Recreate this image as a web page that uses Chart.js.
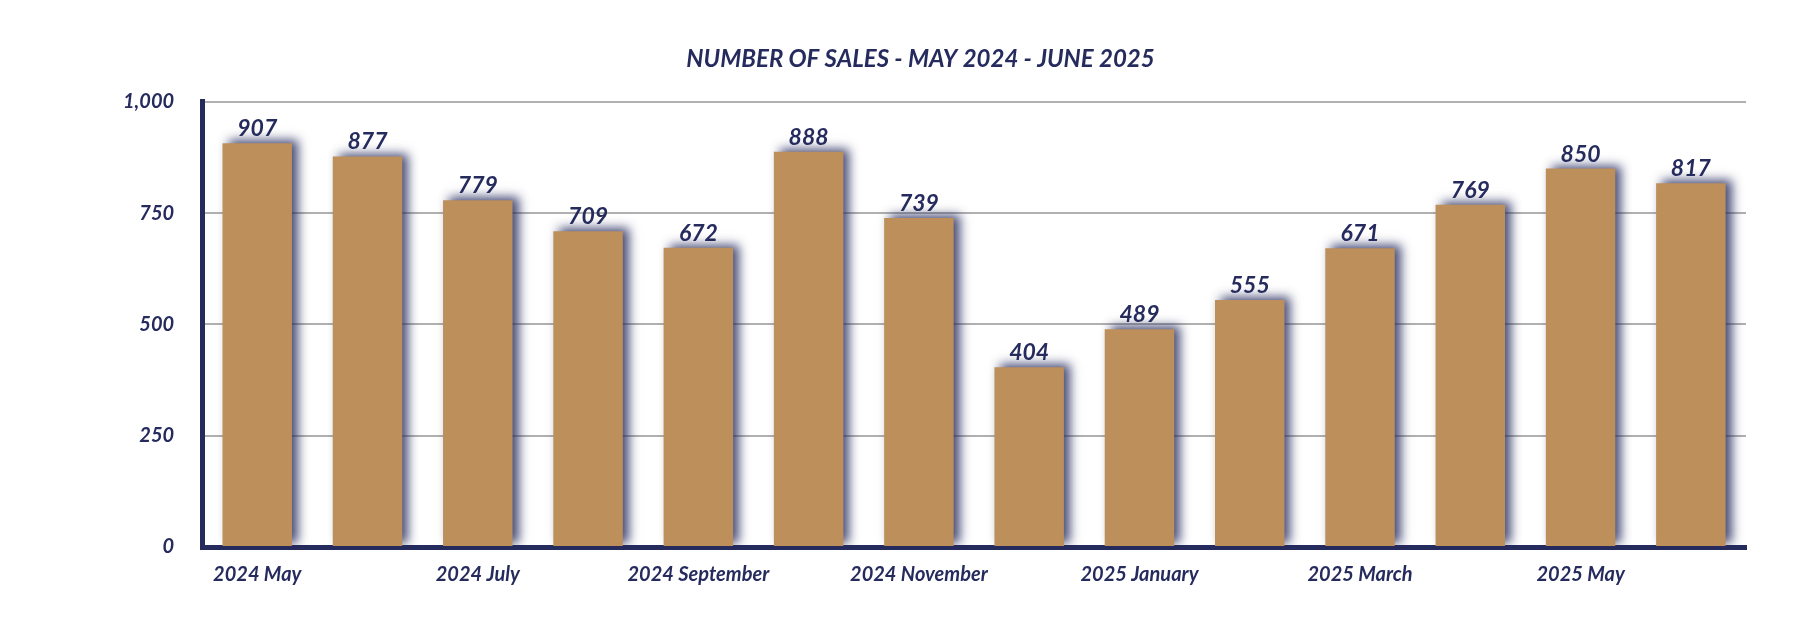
<!DOCTYPE html>
<html>
<head>
<meta charset="utf-8">
<script src="https://cdn.jsdelivr.net/npm/chart.js@4"></script>
<style>
  html, body { margin: 0; padding: 0; background: #fff; }
  #wrap { width: 1812px; height: 640px; }
</style>
</head>
<body>
<div id="wrap"><canvas id="c"></canvas></div>
<script>
const months = ["2024 May", "2024 June", "2024 July", "2024 August", "2024 September", "2024 October",
  "2024 November", "2024 December", "2025 January", "2025 February", "2025 March", "2025 April",
  "2025 May", "2025 June"];
const sales = [907, 877, 779, 709, 672, 888, 739, 404, 489, 555, 671, 769, 850, 817];
const yTicks = [0, 250, 500, 750, 1000];

const navy = "#262b5e";
const font = "Lato";

// blurred navy shadow behind bars
const barShadow = {
  id: "barShadow",
  beforeDatasetDraw(chart) {
    const ctx = chart.ctx;
    ctx.save();
    ctx.shadowColor = "rgba(38,43,94,0.85)";
    ctx.shadowBlur = 10;
    ctx.shadowOffsetX = 6;
    ctx.shadowOffsetY = -3;
  },
  afterDatasetDraw(chart) {
    chart.ctx.restore();
  }
};

// value labels above bars
const valueLabels = {
  id: "valueLabels",
  afterDatasetsDraw(chart) {
    const ctx = chart.ctx;
    const meta = chart.getDatasetMeta(0);
    ctx.save();
    ctx.fillStyle = navy;
    ctx.font = "italic bold 23px " + font;
    ctx.textAlign = "center";
    ctx.textBaseline = "bottom";
    meta.data.forEach((bar, i) => {
      ctx.fillText(sales[i], bar.x, bar.y - 3);
    });
    ctx.restore();
  }
};

new Chart(document.getElementById("c"), {
  type: "bar",
  data: {
    labels: months,
    datasets: [{
      data: sales,
      backgroundColor: "#bd8f5a",
      barPercentage: 0.63,
      categoryPercentage: 1.0
    }]
  },
  options: {
    responsive: true,
    maintainAspectRatio: false,
    animation: false,
    layout: { padding: { left: 95, right: 66, top: 10, bottom: 45 } },
    plugins: {
      legend: { display: false },
      tooltip: { enabled: false },
      title: {
        display: true,
        text: "NUMBER OF SALES - MAY 2024 - JUNE 2025",
        color: navy,
        font: { family: font, size: 24, weight: "bold", style: "italic" },
        padding: { top: 35, bottom: 28 }
      }
    },
    scales: {
      x: {
        grid: { display: false },
        border: { display: true, color: navy, width: 5 },
        ticks: {
          autoSkip: false,
          maxRotation: 0,
          color: navy,
          font: { family: font, size: 20, weight: "bold", style: "italic" },
          padding: 8,
          callback: (v, i) => (i % 2 === 0 ? months[i] : "")
        }
      },
      y: {
        min: 0,
        max: 1000,
        afterBuildTicks: (axis) => { axis.ticks = yTicks.map(v => ({ value: v })); },
        grid: { color: "#b0b0b0", lineWidth: 2, drawTicks: false },
        border: { display: true, color: navy, width: 5 },
        ticks: {
          color: navy,
          font: { family: font, size: 20, weight: "bold", style: "italic" },
          padding: 28,
          callback: (v) => v.toLocaleString("en-US")
        }
      }
    }
  },
  plugins: [barShadow, valueLabels]
});
</script>
</body>
</html>
